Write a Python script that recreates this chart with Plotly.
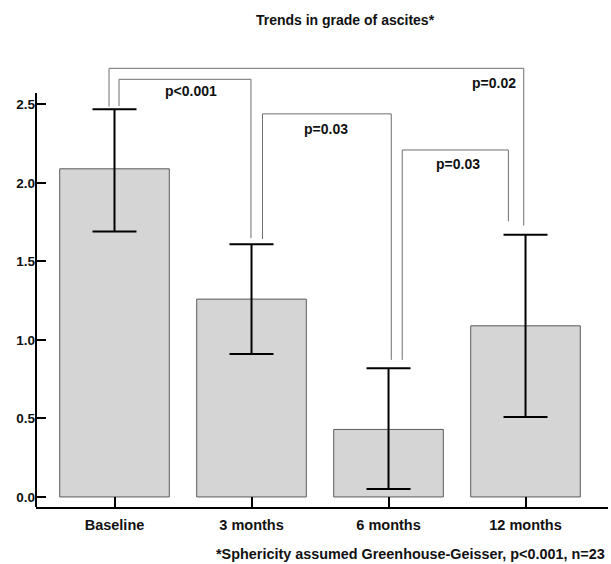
import plotly.graph_objects as go

# ---- data ----
categories = ["Baseline", "3 months", "6 months", "12 months"]
means = [2.09, 1.26, 0.43, 1.09]
upper = [2.47, 1.61, 0.82, 1.67]
lower = [1.69, 0.91, 0.05, 0.51]
y_ticks = [0.0, 0.5, 1.0, 1.5, 2.0, 2.5]
y_tick_labels = ["0.0", "0.5", "1.0", "1.5", "2.0", "2.5"]
p_labels = ["p<0.001", "p=0.03", "p=0.03", "p=0.02"]
title_text = "Trends in grade of ascites*"
footnote = "*Sphericity assumed Greenhouse-Geisser, p<0.001, n=23"

# ---- styling / layout constants ----
FONT = "Liberation Sans, Arial, sans-serif"
TXT = "#111111"
X_RANGE = [-0.573, 3.602]
Y_RANGE = [-0.064, 2.783]
Y_AXIS_TOP = 2.573
# bracket geometry: (x_left, x_right, top, left_leg_bottom, right_leg_bottom)
brackets = [
    (0.033, 0.996, 2.66, 2.49, 1.648),
    (1.08, 2.02, 2.44, 1.643, 0.873),
    (2.10, 2.875, 2.21, 0.873, 1.756),
    (-0.04, 2.987, 2.73, 2.486, 1.728),
]
label_pos = [(0.558, 2.586), (1.544, 2.344), (2.507, 2.121), (2.77, 2.637)]

err_plus = [u - m for u, m in zip(upper, means)]
err_minus = [m - l for m, l in zip(means, lower)]
xpos = list(range(len(categories)))

fig = go.Figure()
fig.add_trace(go.Bar(
    x=xpos, y=means, width=0.8,
    marker=dict(color="#d5d5d5", line=dict(color="#5a5a5a", width=1)),
    error_y=dict(type="data", symmetric=False, array=err_plus, arrayminus=err_minus,
                 color="#000000", thickness=2, width=22),
    showlegend=False, hoverinfo="skip",
))

shapes = []
for (xl, xr, top, lb, rb) in brackets:
    shapes.append(dict(type="path", xref="x", yref="y",
                       path=f"M {xl},{lb} L {xl},{top} L {xr},{top} L {xr},{rb}",
                       line=dict(color="#6e6e6e", width=1)))
# y axis line (stops below the brackets)
shapes.append(dict(type="line", xref="paper", yref="y", x0=0, x1=0,
                   y0=Y_RANGE[0], y1=Y_AXIS_TOP, line=dict(color="#000000", width=2)))

annotations = []
for (lx, ly), t in zip(label_pos, p_labels):
    annotations.append(dict(x=lx, y=ly, xref="x", yref="y", text=t, showarrow=False,
                            font=dict(family=FONT, size=14, color=TXT, weight="bold")))
annotations.append(dict(x=(607 - 36) / 572, y=(507 - 554) / 447, xref="paper", yref="paper",
                        text=footnote, xanchor="right", yanchor="middle", showarrow=False,
                        font=dict(family=FONT, size=14.4, color=TXT, weight="bold")))

fig.update_layout(
    width=611, height=564,
    margin=dict(l=36, r=3, t=60, b=57),
    plot_bgcolor="white", paper_bgcolor="white",
    title=dict(text=title_text, x=345 / 611, xref="container", xanchor="center",
               y=1 - 20 / 564, yref="container", yanchor="middle",
               font=dict(family=FONT, size=14, color=TXT, weight="bold")),
    shapes=shapes, annotations=annotations,
    xaxis=dict(range=X_RANGE, tickmode="array", tickvals=xpos, ticktext=categories,
               showline=True, linecolor="#000000", linewidth=2, ticks="inside",
               ticklen=10, tickwidth=2, tickcolor="#000000", showgrid=False, zeroline=False,
               ticklabelstandoff=4,
               tickfont=dict(family=FONT, size=14.5, color=TXT, weight="bold")),
    yaxis=dict(range=Y_RANGE, tickmode="array", tickvals=y_ticks, ticktext=y_tick_labels,
               showline=False, ticks="inside", ticklen=10, tickwidth=2, tickcolor="#000000",
               showgrid=False, zeroline=False,
               tickfont=dict(family=FONT, size=13.5, color=TXT, weight="bold")),
)

fig.write_html("out.html")
